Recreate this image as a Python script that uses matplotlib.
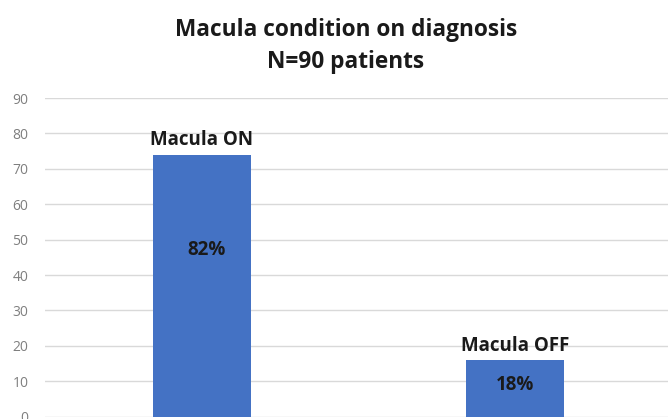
import numpy as np
import matplotlib.pyplot as plt

categories = ["Macula ON", "Macula OFF"]
counts = [74, 16]
pct_labels = ["82%", "18%"]
yticks = [0, 10, 20, 30, 40, 50, 60, 70, 80, 90]


def main():
    plt.rcParams['font.family'] = ['Open Sans', 'DejaVu Sans']
    fig = plt.figure(figsize=(6.68, 4.19), dpi=100)
    W, H = 668, 419
    # axes box in pixels: left 45, right ~672, y=0 at 416.7, y=90 at 98
    ax = fig.add_axes([45 / W, 2.3 / H, 627 / W, (416.7 - 98) / H])

    x = np.arange(len(categories))
    ax.bar(x, counts, width=0.313, color='#4472C4', zorder=2)
    ax.set_xlim(-0.5, len(categories) - 0.5)
    ax.set_ylim(0, 90)
    ax.set_yticks(yticks)
    ax.set_yticklabels([str(t) for t in yticks], color='#7f7f7f', fontsize=10)
    ax.set_xticks([])
    ax.grid(axis='y', color='#d9d9d9', linewidth=1, zorder=0)
    for s in ax.spines.values():
        s.set_visible(False)
    ax.tick_params(axis='y', length=0, pad=12)

    # category names above bars, percentages inside
    for xi, c, n in zip(x, categories, counts):
        ax.text(xi, n + 1.2, c, ha='center', va='bottom', fontsize=13.5,
                fontweight='bold', color='#1a1a1a')
    ax.text(x[0] + 0.015, 47, pct_labels[0], ha='center', va='center',
            fontsize=13.5, fontweight='bold', color='#1a1a1a')
    ax.text(x[1], 9, pct_labels[1], ha='center', va='center', fontsize=13.5,
            fontweight='bold', color='#1a1a1a')

    fig.text(346 / W, 1 - 46 / H, "Macula condition on diagnosis\nN=90 patients",
             ha='center', va='center', fontsize=16.3, fontweight='bold',
             color='#1a1a1a', linespacing=1.45)

    fig.savefig('out.png', dpi=100)
    plt.close('all')


if __name__ == "__main__":
    main()
